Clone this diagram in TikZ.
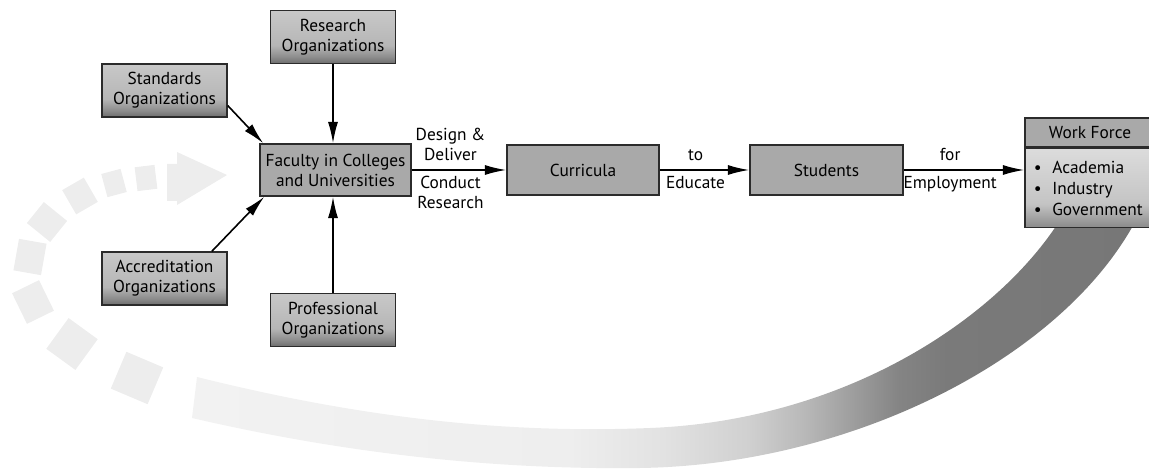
\documentclass[tikz,border=0pt]{standalone}
\usepackage{fontspec}
\setmainfont{PT Sans}
\usetikzlibrary{arrows.meta, positioning, calc}

\definecolor{boxline}{HTML}{2B2B2B}
\definecolor{flatgray}{HTML}{A9A9A9}
\definecolor{dashgray}{HTML}{EDEDED}
% colours of the shaded boxes
\definecolor{orgtop}{HTML}{C8C8C8}
\definecolor{orgmid}{HTML}{B6B6B6}
\definecolor{orglow}{HTML}{8C8C8C}
\definecolor{orgbot}{HTML}{6E6E6E}
\definecolor{wftop}{HTML}{DCDCDC}
\definecolor{wfmid}{HTML}{C4C4C4}
\definecolor{wfbot}{HTML}{8A8A8A}
% colours along the return band
\definecolor{bandA}{HTML}{F2F2F2}
\definecolor{bandB}{HTML}{EEEEEE}
\definecolor{bandC}{HTML}{E2E2E2}
\definecolor{bandD}{HTML}{D0D0D0}
\definecolor{bandE}{HTML}{B8B8B8}
\definecolor{bandF}{HTML}{9E9E9E}
\definecolor{bandG}{HTML}{848484}
\definecolor{bandH}{HTML}{7A7A7A}
\definecolor{bandI}{HTML}{777777}

\pgfdeclareverticalshading{orgshade}{100bp}{color(0bp)=(orgbot); color(25bp)=(orgbot);
  color(31bp)=(orglow); color(42bp)=(orgmid); color(75bp)=(orgtop); color(100bp)=(orgtop)}
\pgfdeclareverticalshading{wfshade}{100bp}{color(0bp)=(wfbot); color(25bp)=(wfbot);
  color(40bp)=(wfmid); color(75bp)=(wftop); color(100bp)=(wftop)}
\pgfdeclarehorizontalshading{bandshade}{100bp}{color(0bp)=(bandA); color(25bp)=(bandA);
  color(45bp)=(bandB); color(50bp)=(bandC); color(54.5bp)=(bandD); color(57.5bp)=(bandE);
  color(60bp)=(bandF); color(62.5bp)=(bandG); color(65bp)=(bandH); color(75bp)=(bandI);
  color(100bp)=(bandI)}

\newcommand{\boxfont}{\fontsize{13pt}{15pt}\selectfont}

\begin{document}
\begin{tikzpicture}[x=0.75pt, y=-0.75pt,
  orgbox/.style={draw=boxline, line width=1.1pt, shading=orgshade, minimum width=93.75pt,
    minimum height=39.5pt, align=center, inner sep=0pt, font=\boxfont},
  flowbox/.style={draw=boxline, line width=1.1pt, fill=flatgray, minimum height=37.5pt,
    align=center, inner sep=0pt, font=\boxfont},
  flowarrow/.style={line width=1.2pt, -{Latex[length=16pt, width=7.5pt]}},
  lbl/.style={font=\boxfont, inner sep=2pt, align=center}]
  \useasboundingbox (0,0) rectangle (1149,470);
  \clip (0,0) rectangle (1149,470);
  % return band from the work force back to the faculty
  \shade[shading=bandshade] (1060,220) .. controls (1000,315) and (850,420) .. (650,428)
    .. controls (480,435) and (330,410) .. (197,377) -- (192,418)
    .. controls (330,450) and (480,470) .. (640,468)
    .. controls (850,465) and (1060,360) .. (1135,222) -- cycle;
  % dashed part of the loop
  \foreach \cx/\cy/\ang/\dl/\dw in {137/378/-23/40/40, 72/344/-36/36/38, 33/302/26/30/34,
      30/257/-10/28/32, 47/222/51/27/30, 80/196/30/25/28, 114/183/15/20/24, 146/178/7/20/24} {
    \fill[dashgray, shift={(\cx,\cy)}, rotate=\ang] (-\dl/2,-\dw/2) rectangle (\dl/2,\dw/2);
  }
  \fill[dashgray] (167,164) -- (177,164) -- (177,152) -- (227,175) -- (177,205) -- (177,201)
    -- (167,201) -- cycle;
  % organizations
  \node[orgbox] (research) at (333,37) {Research\\Organizations};
  \node[orgbox] (standards) at (164.5,90.5) {Standards\\Organizations};
  \node[orgbox] (accred) at (164.5,278.5) {Accreditation\\Organizations};
  \node[orgbox] (prof) at (333,320) {Professional\\Organizations};
  % main flow
  \node[flowbox, minimum width=113.25pt, minimum height=39pt] (faculty) at (335.5,170)
    {Faculty in Colleges\\and Universities};
  \node[flowbox, minimum width=114pt] (curricula) at (583,170) {Curricula};
  \node[flowbox, minimum width=114.75pt] (students) at (826.5,170) {Students};
  % work force
  \node[draw=boxline, line width=1.1pt, fill=flatgray, minimum width=97.5pt,
    minimum height=21.75pt, inner sep=0pt, font=\boxfont] (wfhead) at (1090,132.5) {Work Force};
  \node[draw=boxline, line width=1.1pt, shading=wfshade, minimum width=97.5pt,
    minimum height=59.25pt, inner sep=0pt, below=0pt of wfhead] (wfbody) {};
  \node[anchor=west, align=left, inner sep=0pt, font=\fontsize{13pt}{15.75pt}\selectfont]
    (wflist) at ([xshift=7pt]wfbody.west)
    {\textbullet\hspace{8pt}Academia\\\textbullet\hspace{8pt}Industry\\\textbullet\hspace{8pt}Government};
  % connectors
  \draw[flowarrow] (research.south) -- (research.south |- faculty.north);
  \draw[flowarrow] (prof.north) -- (prof.north |- faculty.south);
  \draw[flowarrow] ($(standards.south east)+(0,-12)$) -- ($(faculty.north west)+(4,0)$);
  \draw[flowarrow] ($(accred.north east)+(-16,0)$) -- ($(faculty.south west)+(5,0)$);
  \draw[flowarrow] (faculty.east) -- (curricula.west)
    node[lbl, above=4pt, pos=0.41] (lbldesign) {Design \&\\Deliver}
    node[lbl, below=2pt, pos=0.41] (lblconduct) {Conduct\\Research};
  \draw[flowarrow] (curricula.east) -- (students.west)
    node[lbl, above=4pt, pos=0.4] (lblto) {to}
    node[lbl, below=2pt, pos=0.4] (lbleducate) {Educate};
  \draw[flowarrow] (students.east) -- (students.east -| wfbody.west)
    node[lbl, above=4pt, pos=0.385] (lblfor) {for}
    node[lbl, below=2pt, pos=0.385] (lblemploy) {Employment};
\end{tikzpicture}
\end{document}
